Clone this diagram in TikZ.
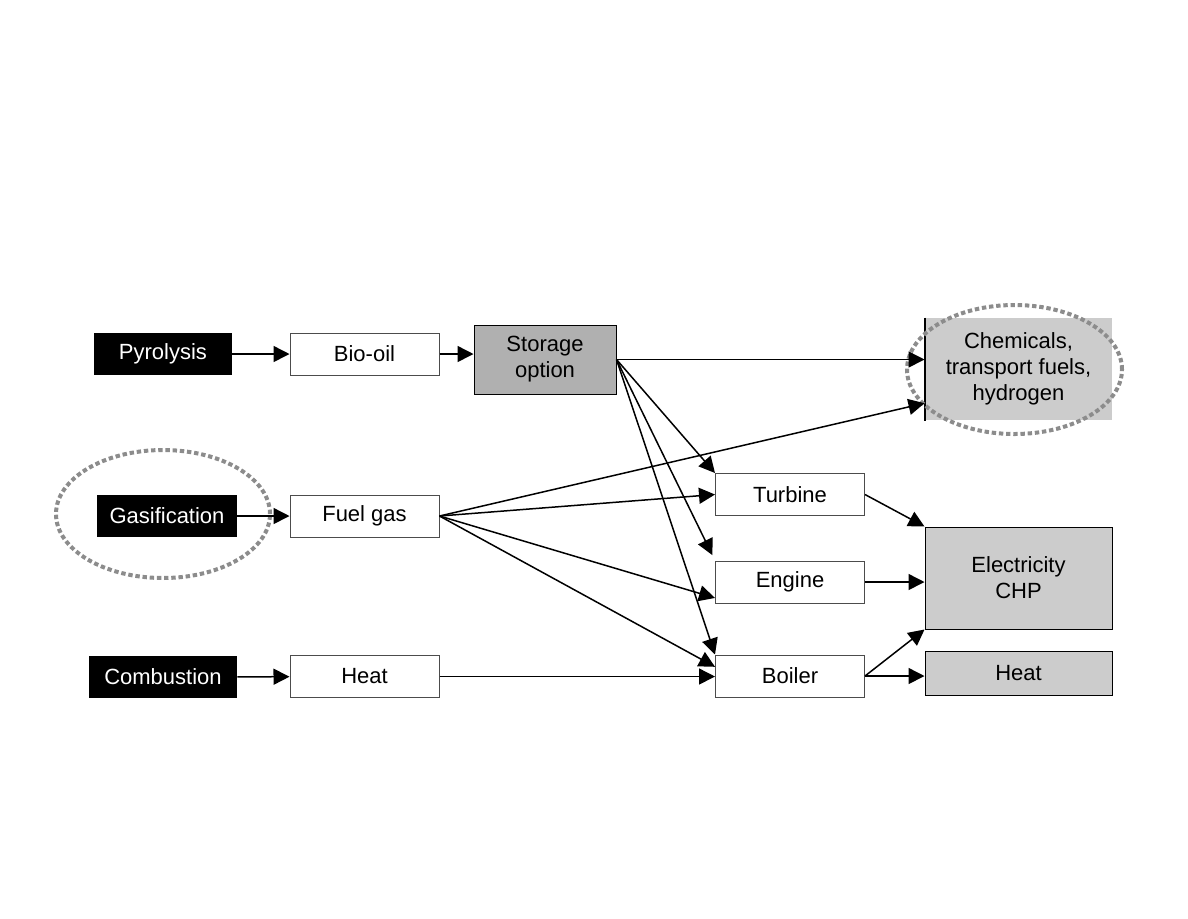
\documentclass[tikz,border=0pt]{standalone}
\usepackage{fontspec}
\setmainfont{Liberation Sans}
\usetikzlibrary{shapes,arrows.meta,positioning,calc}
\tikzstyle{source} = [rectangle, minimum height=21pt, inner sep=0pt, text centered, fill=black, text=white]
\tikzstyle{product} = [rectangle, minimum width=74.5pt, minimum height=21pt, inner sep=0pt, text centered, draw=black!70, line width=0.5pt, fill=white]
\tikzstyle{storage} = [rectangle, minimum width=71pt, minimum height=34.5pt, inner sep=0pt, align=center, draw=black, line width=0.5pt, fill=black!31]
\tikzstyle{output} = [rectangle, minimum width=93.5pt, inner sep=0pt, align=center, draw=black, line width=0.5pt, fill=black!20]
\tikzstyle{ring} = [ellipse, inner sep=0pt, draw=black!45, line width=2pt, dash pattern=on 2.2pt off 1.4pt]
\tikzstyle{arrow} = [line width=0.75pt, -{Triangle[length=8pt,width=8pt]}]

\begin{document}
\begin{tikzpicture}[x=0.5pt, y=-0.5pt, font=\fontsize{11}{13}\selectfont]
        \useasboundingbox (0,0) rectangle (1188,918);
        % conversion routes
        \node (pyro) [source, minimum width=69pt] at (163,354) {Pyrolysis};
        \node (gasi) [source, minimum width=70pt] at (167,516) {Gasification};
        \node (comb) [source, minimum width=74pt] at (163,677) {Combustion};
        % primary products
        \node (biooil) [product] at (364.5,354) {Bio-oil};
        \node (fuelgas) [product] at (364.5,516) {Fuel gas};
        \node (heatin) [product] at (364.5,676.5) {Heat};
        \node (store) [storage] at (545,359.5) {Storage\\option};
        % conversion units
        \node (turbine) [product] at (790,494.5) {Turbine};
        \node (engine) [product] at (790,582) {Engine};
        \node (boiler) [product] at (790,676) {Boiler};
        % end uses
        \node (chem) [output, minimum height=51pt, draw=none] at (1018.5,369) {Chemicals,\\transport fuels,\\hydrogen};
        \draw [line width=1pt] (chem.north west) -- (chem.south west);
        \node (elec) [output, minimum height=51pt] at (1018.5,578) {Electricity\\CHP};
        \node (heatout) [output, minimum height=22pt] at (1018.5,673) {Heat};
        % highlights
        \node (gasring) [ring, minimum width=107pt, minimum height=64pt] at (163,514) {};
        \node (chemring) [ring, minimum width=107.5pt, minimum height=64.5pt] at (1014.5,369.5) {};
        % flows
        \draw [arrow] (pyro) -- (biooil);
        \draw [arrow] (gasi) -- (fuelgas);
        \draw [arrow] (comb) -- (heatin);
        \draw [arrow] (biooil.east) -- (biooil.east -| store.west);
        \draw [arrow] (store.east) -- (store.east -| chem.west);
        \draw [arrow] (store.east) -- (turbine.north west);
        \draw [arrow, shorten >=3pt] (store.east) -- (engine.north west);
        \draw [arrow] (store.east) -- (boiler.north west);
        \draw [arrow] (fuelgas.east) -- (chem.200);
        \draw [arrow] (fuelgas.east) -- (turbine.west);
        \draw [arrow] (fuelgas.east) -- (engine.192);
        \draw [arrow] (fuelgas.east) -- (boiler.173);
        \draw [arrow] (heatin.east) -- (heatin.east -| boiler.west);
        \draw [arrow] (turbine.east) -- (elec.north west);
        \draw [arrow] (engine.east) -- (engine.east -| elec.west);
        \draw [arrow] (boiler.east) -- (elec.south west);
        \draw [arrow] (boiler.east) -- (boiler.east -| heatout.west);
    \end{tikzpicture}
\end{document}
